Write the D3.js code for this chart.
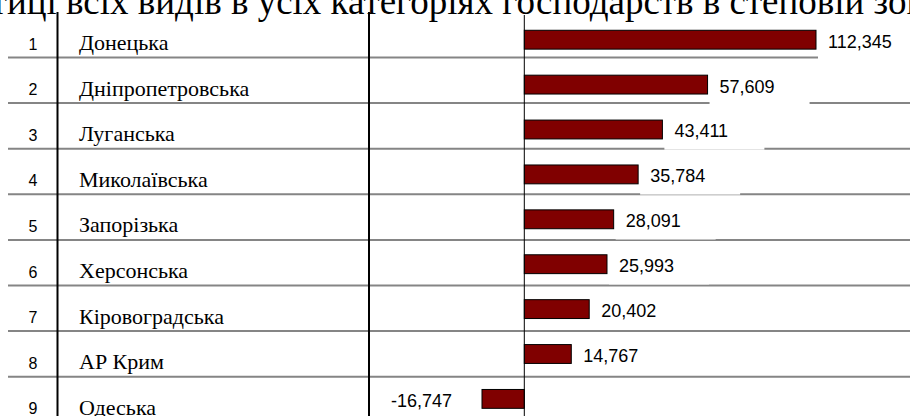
<!DOCTYPE html>
<html>
<head>
<meta charset="utf-8">
<script src="https://cdn.jsdelivr.net/npm/d3@7"></script>
<style>
  body { margin: 0; background: #fff; }
  svg { display: block; }
</style>
</head>
<body>
<div id="chart"></div>
<script>
var titleText = "птиці всіх видів в усіх категоріях господарств в степовій зоні";
var ranks = ["1", "2", "3", "4", "5", "6", "7", "8", "9"];
var regions = ["Донецька", "Дніпропетровська", "Луганська", "Миколаївська", "Запорізька",
               "Херсонська", "Кіровоградська", "АР Крим", "Одеська"];
var values = [112.345, 57.609, 43.411, 35.784, 28.091, 25.993, 20.402, 14.767, -16.747];

var width = 910, height = 416;
var fmt = d3.formatLocale({decimal: ",", thousands: " ", grouping: [3], currency: ["", ""], minus: "-"}).format(".3f");

var svg = d3.select('#chart')
    .append('svg')
    .attr('width', width)
    .attr('height', height);

// title, cut off by the top edge like in the source picture
var title = svg.append('text')
    .attr('y', 14)
    .style('font-family', '"Liberation Serif", "Times New Roman", serif')
    .style('font-size', '37px')
    .style('fill', '#000')
    .text(titleText);
title.attr('x', 7 - title.node().getSubStringLength(0, 2));

// table rows (separators) and bars use their own band scales
var rowY = d3.scaleBand()
    .domain(ranks)
    .range([11.9, 422.3]);
var y = d3.scaleBand()
    .domain(ranks)
    .range([17.25, 421.35])
    .paddingInner(0.58)
    .paddingOuter(0.29);
// axis cut at both ends, as the first and last bars are cut in the source
var x = d3.scaleLinear()
    .domain([-13.3, 91.7])
    .range([482, 816])
    .clamp(true);

// gray separators
svg.append('g').selectAll('line')
    .data(ranks.slice(0, -1))
    .enter()
    .append('line')
    .attr('x1', 8)
    .attr('x2', width)
    .attr('y1', function (d) { return rowY(d) + rowY.bandwidth(); })
    .attr('y2', function (d) { return rowY(d) + rowY.bandwidth(); })
    .style('stroke', '#858585')
    .style('stroke-width', 2);

// table column lines
svg.append('g').selectAll('line')
    .data([57.5, 369])
    .enter()
    .append('line')
    .attr('x1', function (d) { return d; })
    .attr('x2', function (d) { return d; })
    .attr('y1', 12)
    .attr('y2', height)
    .style('stroke', '#000')
    .style('stroke-width', 2);

// rank numbers and region names
svg.append('g').selectAll('text')
    .data(ranks)
    .enter()
    .append('text')
    .attr('x', 33)
    .attr('y', function (d) { return rowY(d) + rowY.bandwidth() - 8; })
    .attr('text-anchor', 'middle')
    .style('font-family', '"Liberation Sans", Arial, sans-serif')
    .style('font-size', '16px')
    .text(function (d) { return d; });

svg.append('g').selectAll('text')
    .data(regions)
    .enter()
    .append('text')
    .attr('x', 79)
    .attr('y', function (d, i) { return rowY(ranks[i]) + rowY.bandwidth() - 7.5; })
    .style('font-family', '"Liberation Serif", "Times New Roman", serif')
    .style('font-size', '22px')
    .text(function (d) { return d; });

// bars
svg.append('g').selectAll('rect')
    .data(values)
    .enter()
    .append('rect')
    .attr('x', function (d) { return Math.min(x(0), x(d)); })
    .attr('y', function (d, i) { return y(ranks[i]); })
    .attr('width', function (d) { return Math.abs(x(d) - x(0)); })
    .attr('height', y.bandwidth())
    .style('fill', '#800000')
    .style('stroke', '#000')
    .style('stroke-width', 1);

// zero axis
svg.append('line')
    .attr('x1', x(0))
    .attr('x2', x(0))
    .attr('y1', 15)
    .attr('y2', height)
    .style('stroke', '#000')
    .style('stroke-width', 1);

// value labels with white boxes
var labels = svg.append('g').selectAll('g')
    .data(values)
    .enter()
    .append('g')
    .attr('transform', function (d, i) {
        var tx = d >= 0 ? x(d) + 12 : x(d) - 30;
        return 'translate(' + tx + ',' + (y(ranks[i]) + y.bandwidth() / 2 + 1.5) + ')';
    });
labels.append('rect')
    .attr('x', function (d) { return d >= 0 ? -10 : -80; })
    .attr('y', -18.7)
    .attr('width', 100)
    .attr('height', 37.4)
    .style('fill', '#fff');
labels.append('text')
    .attr('dy', '0.36em')
    .attr('text-anchor', function (d) { return d >= 0 ? 'start' : 'end'; })
    .style('font-family', '"Liberation Sans", Arial, sans-serif')
    .style('font-size', '18px')
    .text(function (d) { return fmt(d); });
</script>
</body>
</html>
